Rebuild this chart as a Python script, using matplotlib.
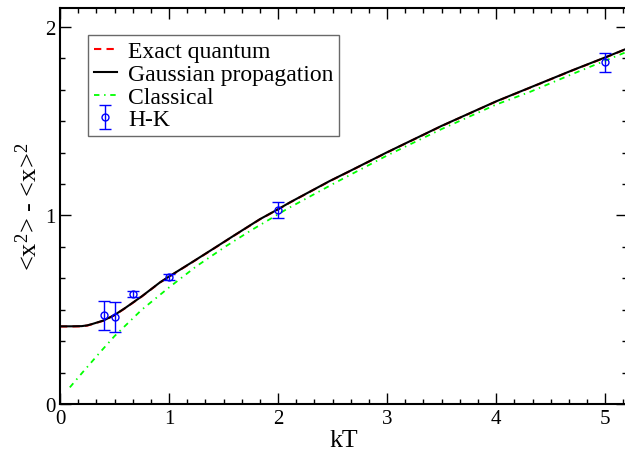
import numpy as np
import matplotlib
matplotlib.use("Agg")
import matplotlib.pyplot as plt
from matplotlib.ticker import AutoMinorLocator, MultipleLocator

# values
kt_quant = [0.0, 0.1, 0.2, 0.25, 0.3, 0.4, 0.5, 0.6, 0.75, 0.917, 1.0, 1.2, 1.375,
            1.6, 1.833, 2.0, 2.108, 2.475, 2.66, 3.0, 3.5, 4.0, 4.31, 4.7, 5.0, 5.2]
gauss_vals = [0.412, 0.412, 0.413, 0.417, 0.425, 0.443, 0.472, 0.51, 0.571, 0.645, 0.676,
              0.748, 0.812, 0.895, 0.98, 1.033, 1.069, 1.183, 1.236, 1.335, 1.475, 1.605,
              1.678, 1.77, 1.838, 1.885]
exact_vals = [0.411, 0.411, 0.412, 0.416, 0.424, 0.442, 0.471, 0.509, 0.570, 0.644, 0.675,
              0.747, 0.811, 0.894, 0.979, 1.032, 1.068, 1.182, 1.235, 1.334, 1.474, 1.604,
              1.677, 1.769, 1.837, 1.884]

kt_class = [0.09, 0.2, 0.367, 0.5, 0.75, 1.0, 1.25, 1.528, 1.75, 2.09, 2.52, 3.0, 3.5,
            4.0, 4.31, 4.7, 5.2]
class_vals = [0.088, 0.163, 0.274, 0.36, 0.50, 0.618, 0.73, 0.839, 0.92, 1.037, 1.172,
              1.318, 1.458, 1.588, 1.655, 1.75, 1.868]

kt_hk = [0.4, 0.5, 0.667, 1.0, 2.0, 5.0]
hk_vals = [0.47, 0.46, 0.582, 0.672, 1.03, 1.812]
hk_err = [0.078, 0.08, 0.017, 0.017, 0.041, 0.05]

plt.rcParams['font.family'] = ['Liberation Serif', 'DejaVu Serif']
plt.rcParams['mathtext.fontset'] = 'custom'
plt.rcParams['mathtext.rm'] = 'Liberation Serif'
plt.rcParams['mathtext.it'] = 'Liberation Serif'

fig = plt.figure(figsize=(6.25, 4.52), dpi=100)
ax = fig.add_axes([60 / 625, 47 / 452, 567 / 625, 396 / 452])

ax.plot(kt_quant, exact_vals, color='#ff0000', lw=1.5, dashes=(3.5, 2.5), label='Exact quantum')
ax.plot(kt_quant, gauss_vals, color='black', lw=1.5, label='Gaussian propagation')
ax.plot(kt_class, class_vals, color='#00ff00', lw=1.3, dashes=(3.0, 2.6, 0.8, 2.6), label='Classical')
ax.errorbar(kt_hk, hk_vals, yerr=hk_err, fmt='o', mfc='none', mec='#0000ff', ecolor='#0000ff',
            ms=5, mew=1.0, elinewidth=1.0, capsize=4, capthick=1.0, label='H-K')

ax.set_xlim(0, 5.2)
ax.set_ylim(0, 2.1)
ax.xaxis.set_major_locator(MultipleLocator(1))
ax.yaxis.set_major_locator(MultipleLocator(1))
ax.xaxis.set_minor_locator(AutoMinorLocator(6))
ax.yaxis.set_minor_locator(AutoMinorLocator(6))
ax.tick_params(which='both', direction='in', top=True, right=True, width=1.0, labelsize=15)
ax.tick_params(which='major', length=8)
ax.tick_params(which='minor', length=3.6)
for s in ax.spines.values():
    s.set_linewidth(1.5)

ax.set_xlabel('kT', fontsize=18.5, labelpad=1)
ax.set_ylabel(r'<x$^{2}$> - <x>$^{2}$', fontsize=19, labelpad=2)

leg = ax.legend(loc='upper left', bbox_to_anchor=(0.049, 0.932), borderaxespad=0,
                fontsize=17, frameon=True, fancybox=False, handlelength=1.0,
                handletextpad=0.45, labelspacing=0.05, borderpad=0.25)
leg.get_frame().set_edgecolor('#444444')
leg.get_frame().set_linewidth(1.0)

fig.savefig('out.png', dpi=100)
